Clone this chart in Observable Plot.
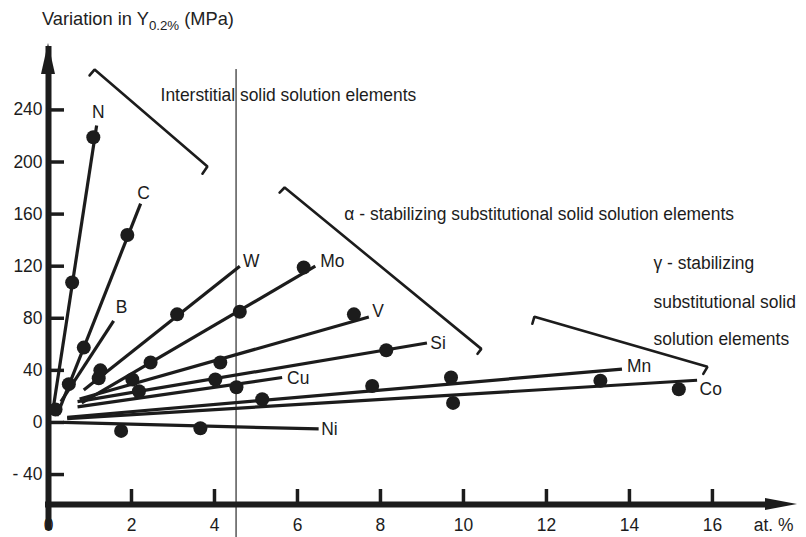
<!DOCTYPE html>
<html><head><meta charset="utf-8">
<script src="https://cdn.jsdelivr.net/npm/d3@7"></script>
<script src="https://cdn.jsdelivr.net/npm/@observablehq/plot@0.6"></script>
<style>
body{margin:0;background:#fff;}
#title{height:38px;line-height:38px;padding-left:42px;color:#222;white-space:nowrap;overflow:hidden;}
#title sub{vertical-align:-5px;line-height:0;}
#chart svg{display:block;}
</style></head><body>
<div id="title">Variation in Y<sub>0.2%</sub> (MPa)</div>
<div id="chart"></div>
<script>
// ---------- data ----------
const elements   = ["N", "C", "B", "W", "Mo", "V", "Si", "Cu", "Ni", "Mn", "Co"];
const lineStartX = [0.10, 0.20, 0.30, 0.85, 0.80, 0.75, 0.70, 0.70, 0.35, 0.45, 0.45];
const lineStartY = [8, 5, 16, 25, 15, 18, 16, 12, 0, 4, 3];
const lineEndX   = [1.16, 2.22, 1.57, 4.61, 6.43, 7.72, 9.12, 5.63, 6.51, 13.82, 15.63];
const lineEndY   = [228, 168, 78, 120, 120, 81, 61, 34.5, -5, 41, 32.4];
const labelX     = [1.20, 2.29, 1.76, 4.69, 6.55, 7.80, 9.20, 5.75, 6.57, 13.94, 15.69];
const labelY     = [238, 176, 88, 124, 123.5, 85, 61, 33.5, -5.2, 43, 25.5];
const labelAnchor= ["middle","middle","middle","start","start","start","start","start","start","start","start"];

const dotElement = ["N","N","N","C","C","C","W","W","W","Mo","Mo","Mo","V","V","V","Si","Si","Si","Cu","Ni","Ni","Mn","Mn","Mn","Co","Co","Co"];
const dotX = [0.17, 0.57, 1.08, 0.49, 0.85, 1.90, 1.21, 1.25, 3.10, 2.46, 4.61, 6.15, 2.02, 4.14, 7.36, 2.18, 4.02, 8.14, 4.53, 1.75, 3.66, 5.15, 7.80, 9.70, 9.75, 13.30, 15.19];
const dotY = [10, 107.5, 219, 29.4, 57.5, 144, 34, 40, 83, 46, 85, 119, 33, 46, 83, 24, 33, 55.5, 27, -6.5, -4.5, 17.8, 28, 34.5, 15, 32, 25.5];

const bracketGroup = ["int","int","int","int","alpha","alpha","alpha","alpha","gamma","gamma","gamma","gamma"];
const bracketX = [0.99, 1.11, 3.83, 3.71, 5.57, 5.69, 10.43, 10.34, 11.66, 11.71, 15.88, 15.78];
const bracketY = [266.5, 271, 196.5, 191, 176.5, 180.4, 56.5, 52.7, 75.8, 81.2, 42.7, 37.3];

const noteText = ["Interstitial solid solution elements", "\u03b1 - stabilizing substitutional solid solution elements", "\u03b3 - stabilizing", "substitutional solid", "solution elements"];
const noteX = [2.70, 7.13, 14.58, 14.58, 14.58];
const noteY = [251, 159.6, 121.9, 92.2, 63.6];

const dividerX = [4.52];
const dividerY = [271, -90];

const xTicks = [0, 2, 4, 6, 8, 10, 12, 14, 16];
const yTicks = [-40, 0, 40, 80, 120, 160, 200, 240];
const yTickLabels = ["- 40", "0", "40", "80", "120", "160", "200", "240"];
const xUnit = "at. %";
const xDomain = [0, 18.05];
const yDomain = [-63, 291];

// ---------- font choice ----------
function hasFont(name) {
  const c = document.createElement("canvas").getContext("2d");
  c.font = "20px monospace";
  const a = c.measureText("Interstitial solid 0123").width;
  c.font = `20px "${name}", monospace`;
  const b = c.measureText("Interstitial solid 0123").width;
  return Math.abs(a - b) > 0.5;
}
const narrow = hasFont("Liberation Sans Narrow");
const FONT = narrow ? '"Liberation Sans Narrow", "Liberation Sans", Arial, sans-serif' : '"Liberation Sans", Arial, sans-serif';
const k = narrow ? 1 : 0.83;
const FS = 21 * k;
const INK = "#1c1c1c";

const title = document.getElementById("title");
title.style.fontFamily = FONT;
title.style.fontSize = (22 * k) + "px";
title.querySelector("sub").style.fontSize = (16 * k) + "px";

// ---------- tables ----------
const lines = elements.map((e, i) => ({e, x1: lineStartX[i], y1: lineStartY[i], x2: lineEndX[i], y2: lineEndY[i]}));
const labels = elements.map((e, i) => ({e, x: labelX[i], y: labelY[i], a: labelAnchor[i]}));
const dots = dotElement.map((e, i) => ({e, x: dotX[i], y: dotY[i]}));
const brackets = bracketGroup.map((g, i) => ({g, x: bracketX[i], y: bracketY[i]}));
const notes = noteText.map((t, i) => ({t, x: noteX[i], y: noteY[i]}));

function arrowHeads(index, {x, y}) {
  const g = d3.create("svg:g").attr("fill", INK);
  const x0 = x(0), yt = y(yDomain[1]);
  const xr = x(xDomain[1]), y0 = y(yDomain[0]);
  g.append("path").attr("d", `M${x0},${yt}L${x0 - 7},${yt + 31}L${x0 + 7},${yt + 31}Z`);
  g.append("path").attr("d", `M${xr},${y0}L${xr - 32},${y0 - 6}L${xr - 32},${y0 + 6}Z`);
  return g.node();
}

const chart = Plot.plot({
  width: 806,
  height: 499,
  marginLeft: 48,
  marginRight: 9,
  marginTop: 5,
  marginBottom: 33,
  x: {domain: xDomain},
  y: {domain: yDomain},
  style: {fontFamily: FONT, fontSize: FS + "px", color: INK, background: "#fff", overflow: "visible"},
  marks: [
    Plot.ruleX(dividerX, {x: d => d, y1: dividerY[0], y2: dividerY[1], stroke: "#000", strokeWidth: 1}),
    Plot.ruleX([0], {x: d => d, y1: yDomain[0], y2: yDomain[1], insetTop: 26, insetBottom: -3, stroke: INK, strokeWidth: 6}),
    Plot.ruleY([yDomain[0]], {y: d => d, x1: xDomain[0], x2: xDomain[1], insetRight: 28, insetLeft: -3, stroke: INK, strokeWidth: 6}),
    Plot.ruleY(yTicks, {y: d => d, x1: 0, x2: 0, insetRight: -16, stroke: INK, strokeWidth: 3.5}),
    Plot.ruleX(xTicks.filter(d => d > 0), {x: d => d, y1: yDomain[0], y2: yDomain[0], insetTop: -15, stroke: INK, strokeWidth: 3.5}),
    arrowHeads,
    Plot.axisY(yTicks, {tickSize: 0, tickPadding: 6, tickFormat: d => yTickLabels[yTicks.indexOf(d)], label: null, fontSize: FS}),
    Plot.axisX(xTicks, {tickSize: 0, tickPadding: 14, label: null, fontSize: FS}),
    Plot.text([xUnit], {frameAnchor: "bottom-right", text: d => d, textAnchor: "end", lineAnchor: "top", dx: -4, dy: 14, fontSize: FS}),
    Plot.line(brackets, {x: "x", y: "y", z: "g", stroke: INK, strokeWidth: 2.6, strokeLinejoin: "miter", curve: "linear"}),
    Plot.link(lines, {x1: "x1", y1: "y1", x2: "x2", y2: "y2", stroke: INK, strokeWidth: 3.2}),
    Plot.dot(dots, {x: "x", y: "y", r: 7, fill: INK, stroke: null}),
    Plot.text(labels.filter(d => d.a === "middle"), {x: "x", y: "y", text: "e", textAnchor: "middle", fontSize: FS, fill: INK}),
    Plot.text(labels.filter(d => d.a === "start"), {x: "x", y: "y", text: "e", textAnchor: "start", fontSize: FS, fill: INK}),
    Plot.text(notes, {x: "x", y: "y", text: "t", textAnchor: "start", fontSize: FS, fill: INK})
  ]
});
document.getElementById("chart").appendChild(chart);
</script>
</body></html>
